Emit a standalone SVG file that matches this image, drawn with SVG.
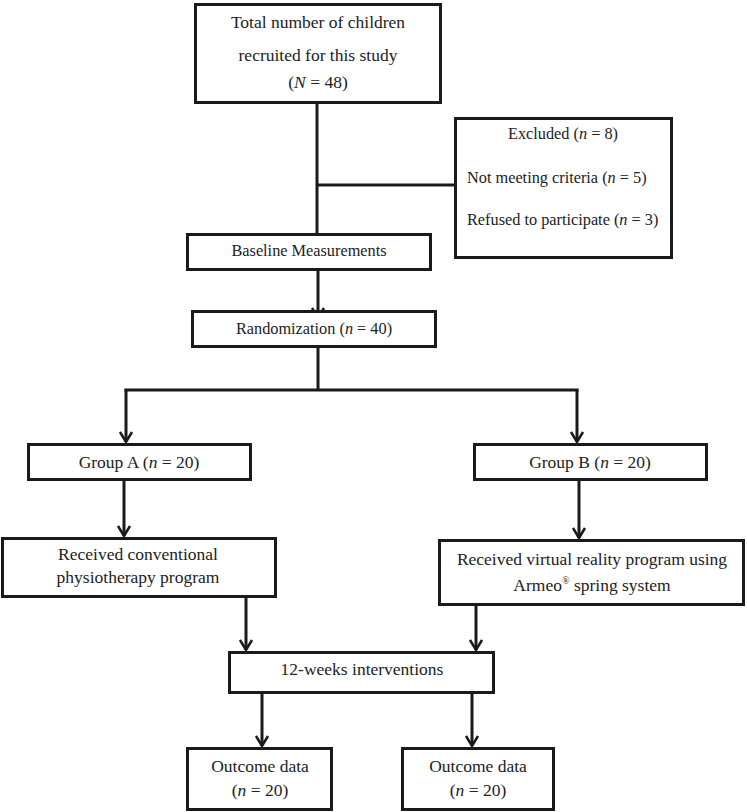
<svg xmlns="http://www.w3.org/2000/svg" width="747" height="812" viewBox="0 0 747 812">
<style>
.box{fill:#fff;stroke:#1a1a1a;stroke-width:3}
.t{font-family:"Liberation Serif","Times New Roman",serif;font-size:17.5px;fill:#222;text-anchor:middle}
.s{font-size:16.3px}
.l{text-anchor:start}
.c{fill:none;stroke:#1a1a1a;stroke-width:3}
.i{font-style:italic}
</style>
<defs>
<marker id="arr" markerUnits="userSpaceOnUse" markerWidth="14" markerHeight="16" viewBox="-12 -8 14 16" refX="0" refY="0" orient="auto">
<path d="M-10,-6 L0,0 L-10,6" fill="none" stroke="#1a1a1a" stroke-width="2.5"/>
</marker>
</defs>
<g id="connectors">
<path class="c" d="M317,104 V233"/>
<path class="c" d="M317,185 H454"/>
<path class="c" d="M318,271 V318" marker-end="url(#arr)"/>
<path class="c" d="M318,348 V390"/>
<path class="c" d="M124.5,390 H578.5"/>
<path class="c" d="M126,389 V442" marker-end="url(#arr)"/>
<path class="c" d="M577,389 V442" marker-end="url(#arr)"/>
<path class="c" d="M124,481 V536" marker-end="url(#arr)"/>
<path class="c" d="M579,481 V538" marker-end="url(#arr)"/>
<path class="c" d="M246,598 V650" marker-end="url(#arr)"/>
<path class="c" d="M476,606 V650" marker-end="url(#arr)"/>
<path class="c" d="M262,694 V746" marker-end="url(#arr)"/>
<path class="c" d="M472,694 V746" marker-end="url(#arr)"/>
</g>
<g id="total">
<rect class="box" x="195.5" y="4.5" width="245" height="98"/>
<text class="t" x="318" y="28">Total number of children</text>
<text class="t" x="318" y="61">recruited for this study</text>
<text class="t" x="318" y="88">(<tspan class="i">N</tspan> = 48)</text>
</g>
<g id="excluded">
<rect class="box" x="455.5" y="118.5" width="216" height="139"/>
<text class="t s" x="563" y="139">Excluded (<tspan class="i">n</tspan> = 8)</text>
<text class="t s l" x="467" y="183">Not meeting criteria (<tspan class="i">n</tspan> = 5)</text>
<text class="t s l" x="467" y="225">Refused to participate (<tspan class="i">n</tspan> = 3)</text>
</g>
<g id="baseline">
<rect class="box" x="187.5" y="234.5" width="243" height="35"/>
<text class="t s" x="309" y="256">Baseline Measurements</text>
</g>
<g id="randomization">
<rect class="box" x="192.5" y="311.5" width="243" height="35"/>
<text class="t s" x="314" y="334">Randomization (<tspan class="i">n</tspan> = 40)</text>
</g>
<g id="groupA">
<rect class="box" x="28.5" y="444.5" width="222" height="35"/>
<text class="t" x="139" y="468">Group A (<tspan class="i">n</tspan> = 20)</text>
</g>
<g id="groupB">
<rect class="box" x="474.5" y="444.5" width="232" height="35"/>
<text class="t" x="590" y="468">Group B (<tspan class="i">n</tspan> = 20)</text>
</g>
<g id="conventional">
<rect class="box" x="2.5" y="538.5" width="273" height="58"/>
<text class="t" x="138" y="560">Received conventional</text>
<text class="t" x="138" y="583">physiotherapy program</text>
</g>
<g id="vr">
<rect class="box" x="439.5" y="540.5" width="304" height="64"/>
<text class="t" x="592" y="565">Received virtual reality program using</text>
<text class="t" x="592" y="591">Armeo<tspan dy="-7" font-size="10">®</tspan><tspan dy="7"> spring system</tspan></text>
</g>
<g id="interventions">
<rect class="box" x="229.5" y="652.5" width="264" height="40"/>
<text class="t" x="362" y="675">12-weeks interventions</text>
</g>
<g id="outcomeA">
<rect class="box" x="187.5" y="748.5" width="144" height="61"/>
<text class="t" x="260" y="772">Outcome data</text>
<text class="t" x="260" y="796">(<tspan class="i">n</tspan> = 20)</text>
</g>
<g id="outcomeB">
<rect class="box" x="402.5" y="748.5" width="151" height="61"/>
<text class="t" x="478" y="772">Outcome data</text>
<text class="t" x="478" y="796">(<tspan class="i">n</tspan> = 20)</text>
</g>
</svg>
